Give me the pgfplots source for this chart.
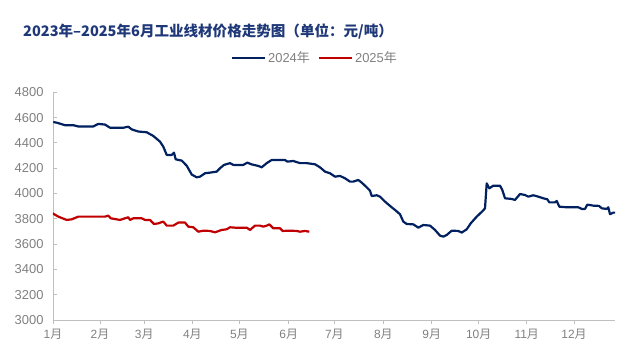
\documentclass[border=0pt]{standalone}
\usepackage{pgfplots}
\pgfplotsset{compat=1.18}
\usepackage{fontspec}
\setmainfont{Liberation Sans}
\newfontfamily\cjk{Noto Sans CJK SC}
\definecolor{navy}{RGB}{0,32,96}
\definecolor{dred}{RGB}{192,0,0}
\definecolor{ttl}{RGB}{31,56,120}
\definecolor{txt}{RGB}{128,128,128}
\definecolor{axc}{RGB}{191,191,191}
\newcommand{\Y}{{\cjk 年}}
\newcommand{\M}{{\cjk 月}}
\begin{document}
\begin{tikzpicture}
\useasboundingbox (0bp,0bp) rectangle (634bp,360bp);
\node[anchor=west, font=\cjk\bfseries\fontsize{14.6}{16}\selectfont, text=ttl, inner sep=0pt] at (23bp,328.3bp) {2023年–2025年6月工业线材价格走势图（单位：元/吨）};
\begin{axis}[
  at={(53bp,40bp)}, anchor=south west,
  scale only axis, width=562bp, height=227.7bp,
  xmin=53, xmax=615, ymin=3000, ymax=4800,
  ytick={3000,3200,3400,3600,3800,4000,4200,4400,4600,4800},
  xtick={53,100,144.3,192.3,239.3,288.7,334.3,383.3,431.7,478.7,526.7,574},
  xticklabels={1\M,2\M,3\M,4\M,5\M,6\M,7\M,8\M,9\M,10\M,11\M,12\M},
  axis x line*=bottom, axis y line*=left,
  axis line style={axc, line width=0.8bp},
  every tick/.style={axc, line width=0.8bp},
  major tick length=4bp,
  xtick align=outside, ytick align=inside,
  /pgf/number format/assume math mode=true,
  /pgf/number format/set thousands separator={},
  yticklabel style={font=\fontsize{13}{13}\selectfont, text=txt, xshift=-6bp},
  xticklabel style={font=\fontsize{12}{12}\selectfont, text=txt, yshift=-2bp},
  legend columns=2,
  legend style={at={(0.466,1.151)}, anchor=center, draw=none, fill=none,
    font=\fontsize{13}{13}\selectfont, text=txt,
    /tikz/every even column/.append style={column sep=6bp}},
  legend image code/.code={\draw[#1, line width=2.2bp] (0bp,0bp) -- (33bp,0bp);},
  line join=round,
]
\addplot[navy, line width=2.2bp] coordinates {
(53.3,4565)(56.7,4560)(65,4540)(73.3,4540)(78.3,4530)(93.3,4530)(98.3,4550)(105,4545)(110,4520)(123.3,4520)(128.3,4528)(131.7,4507)(138.3,4490)(146.7,4484)(153.3,4455)(160,4410)(163.3,4370)(166.7,4305)(171.7,4305)(174,4323)(175.7,4270)(181.7,4260)(186.7,4220)(191.7,4150)(196.7,4128)(200,4133)(205,4160)(210,4165)(216.7,4173)(220,4200)(224,4226)(230,4240)(233.3,4226)(243.3,4226)(247.3,4244)(251.7,4230)(258.3,4218)(261.7,4207)(266.7,4240)(271.7,4265)(280,4265)(285,4265)(287.3,4252)(293.3,4257)(300,4240)(306.7,4240)(315,4231)(320,4207)(325,4173)(330,4160)(335,4133)(340,4139)(345,4120)(350,4094)(353.3,4094)(358.3,4107)(361.7,4086)(366.7,4049)(370,4022)(371.7,3980)(376.7,3986)(380,3975)(385,3936)(390,3902)(395,3870)(400,3836)(403.3,3778)(406.7,3759)(413.3,3756)(418.3,3730)(423.3,3751)(430,3746)(435,3712)(440,3667)(443.3,3659)(446.7,3672)(451.7,3706)(458.3,3704)(461.7,3691)(466.7,3717)(470.7,3764)(476.7,3817)(482.7,3862)(485,3883)(486.7,4080)(489.3,4041)(493.3,4062)(500,4062)(502.3,4028)(505,3962)(511.7,3957)(515,3949)(520,3996)(525,3988)(528.3,3975)(533.3,3986)(538.3,3975)(543.3,3962)(547.3,3954)(549.3,3930)(555,3930)(556.7,3941)(559.3,3896)(566.7,3891)(578.3,3891)(581.7,3878)(585,3878)(587.3,3912)(593.3,3904)(599,3902)(601.7,3883)(606.7,3878)(608.3,3891)(610,3836)(613.3,3849)(615,3849)
};
\addlegendentry{2024\Y}
\addplot[dred, line width=2.2bp] coordinates {
(52.7,3843)(58.3,3817)(66.7,3791)(71.7,3796)(78.3,3817)(93.3,3817)(105,3817)(108.3,3825)(110.7,3804)(120,3791)(125,3804)(128.3,3812)(130,3791)(133.3,3804)(141.7,3804)(145,3791)(150,3791)(154,3759)(158.3,3764)(163.3,3778)(166.7,3746)(173.3,3746)(178.3,3770)(185,3770)(188.3,3738)(193.3,3733)(198.3,3698)(203.3,3706)(210,3704)(215,3693)(221.7,3712)(226.7,3717)(230,3733)(235,3730)(246.7,3730)(250,3712)(255,3746)(260,3746)(263.3,3738)(266.7,3746)(269.3,3756)(273.3,3725)(280,3725)(282.7,3704)(290,3706)(296.7,3704)(300,3698)(305,3704)(309.3,3698)
};
\addlegendentry{2025\Y}
\end{axis}
\end{tikzpicture}
\end{document}
